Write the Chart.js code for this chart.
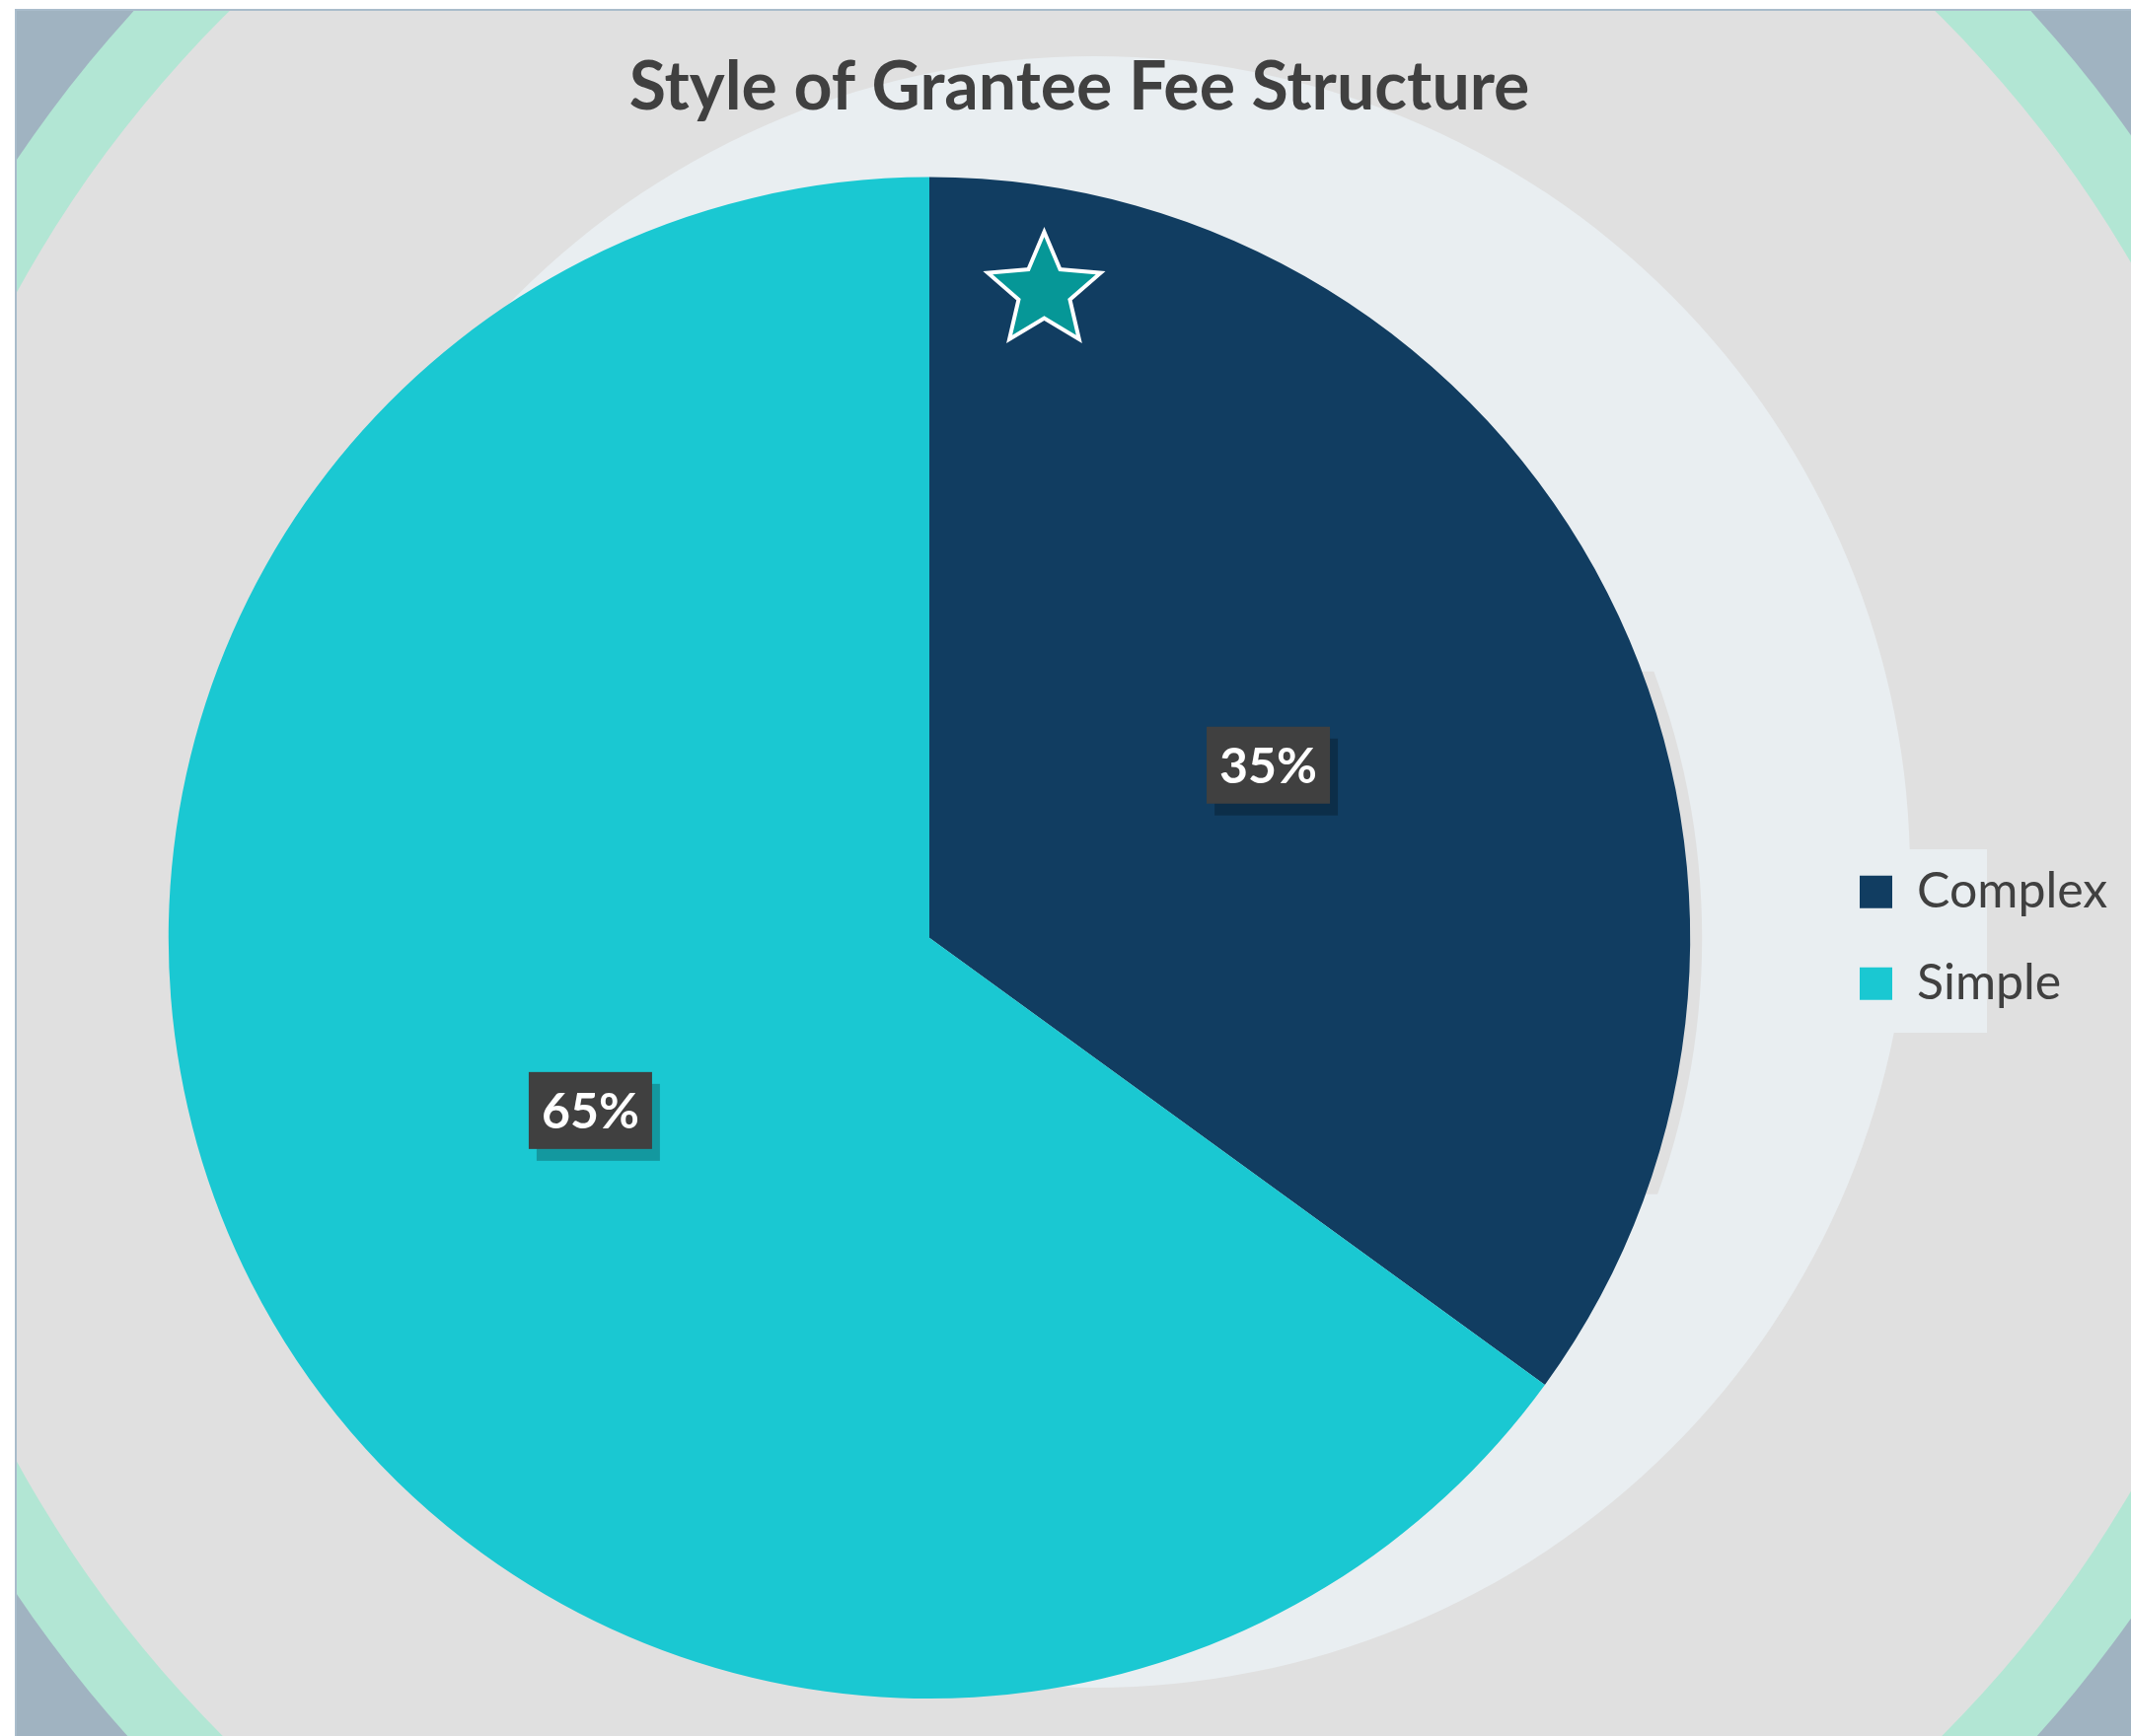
<!DOCTYPE html>
<html>
<head>
<meta charset="utf-8">
<script src="https://cdn.jsdelivr.net/npm/chart.js@4.4.1/dist/chart.umd.min.js"></script>
<style>
  html, body { margin: 0; padding: 0; background: #ffffff; }
  canvas { display: block; }
</style>
</head>
<body>
<canvas id="mycanvas" width="2160" height="1760"></canvas>
<script>
var categories = ['Complex', 'Simple'];
var shares = [35, 65];
var sliceColors = ['#113d61', '#1ac8d2'];
var chartTitle = 'Style of Grantee Fee Structure';

// legend sizing, measured so the legend sits where the original has it
var legendFont = 50, legendPad = 43, legendBox = 33;
var mctx = document.createElement('canvas').getContext('2d');
mctx.font = legendFont + 'px Lato';
var textW = 0;
for (var i in categories) {
  textW = Math.max(textW, mctx.measureText(categories[i]).width);
}
var legendLeft = 1885 - legendPad;
var padRight = 2160 - legendLeft - (legendPad + legendBox + legendFont / 2 + textW + 10);

// backdrop: frame, rings, pale disc behind the pie
var backdrop = {
  id: 'backdrop',
  beforeDraw: function(chart) {
    var ctx = chart.ctx;
    var meta = chart.getDatasetMeta(0);
    var arc = meta.data[0];
    ctx.save();
    ctx.fillStyle = '#ffffff';
    ctx.fillRect(0, 0, chart.width, chart.height);
    ctx.beginPath();
    ctx.rect(16, 10, chart.width - 16, chart.height - 10);
    ctx.clip();
    ctx.fillStyle = '#a0b3c1';
    ctx.fillRect(16, 10, chart.width - 16, chart.height - 10);
    ctx.fillStyle = '#b2e6d4';
    ctx.beginPath(); ctx.arc(1097, 889, 1302, 0, Math.PI * 2); ctx.fill();
    ctx.fillStyle = '#e0e0e0';
    ctx.beginPath(); ctx.arc(1097, 889, 1232, 0, Math.PI * 2); ctx.fill();
    ctx.fillStyle = '#e9eef1';
    ctx.beginPath(); ctx.arc(1109, 884, 827, 0, Math.PI * 2); ctx.fill();
    // pale patch behind the legend
    ctx.fillRect(1900, 861, 114, 186);
    // grey halo on the right of the pie
    ctx.save();
    ctx.beginPath();
    ctx.rect(arc.x, arc.y - 270, arc.outerRadius + 40, 530);
    ctx.clip();
    ctx.fillStyle = '#e0e0e0';
    ctx.beginPath(); ctx.arc(arc.x + 12, arc.y, arc.outerRadius, 0, Math.PI * 2); ctx.fill();
    ctx.restore();
    ctx.restore();
    // frame lines
    ctx.save();
    ctx.strokeStyle = '#a9bccb';
    ctx.lineWidth = 2;
    ctx.beginPath();
    ctx.moveTo(16, chart.height); ctx.lineTo(16, 10); ctx.lineTo(chart.width, 10);
    ctx.stroke();
    ctx.restore();
  }
};

// percentage boxes and the star
var labelsAndStar = {
  id: 'labelsAndStar',
  afterDatasetsDraw: function(chart) {
    var ctx = chart.ctx;
    var meta = chart.getDatasetMeta(0);
    ctx.save();
    ctx.font = 'bold 50px Lato';
    ctx.textAlign = 'center';
    ctx.textBaseline = 'middle';
    meta.data.forEach(function(el, i) {
      var p = el.tooltipPosition();
      var txt = shares[i] + '%';
      var w = 125;
      var h = 78;
      ctx.fillStyle = 'rgba(0,0,0,0.24)';
      ctx.fillRect(p.x - w / 2 + 8, p.y - h / 2 + 12, w, h);
      ctx.fillStyle = '#404040';
      ctx.fillRect(p.x - w / 2, p.y - h / 2, w, h);
      ctx.fillStyle = '#ffffff';
      ctx.fillText(txt, p.x, p.y + 2);
    });

    var a = meta.data[0];
    var cx = a.x + 0.151 * a.outerRadius;
    var cy = a.y - 0.85 * a.outerRadius;
    var R = 55, r = 25;
    ctx.beginPath();
    for (var k = 0; k < 10; k++) {
      var rad = k % 2 === 0 ? R : r;
      var ang = -Math.PI / 2 + k * Math.PI / 5;
      var px = cx + rad * Math.cos(ang), py = cy + rad * Math.sin(ang);
      if (k === 0) ctx.moveTo(px, py); else ctx.lineTo(px, py);
    }
    ctx.closePath();
    ctx.lineJoin = 'miter';
    ctx.lineWidth = 8;
    ctx.strokeStyle = '#ffffff';
    ctx.stroke();
    ctx.fillStyle = '#069797';
    ctx.fill();
    ctx.restore();
  }
};

Chart.defaults.font.family = 'Lato, "Open Sans", sans-serif';

var chartdata = {
  labels: categories,
  datasets: [{
    data: shares,
    backgroundColor: sliceColors,
    borderWidth: 0,
    hoverOffset: 0
  }]
};

var ctx = document.getElementById('mycanvas');
var pieChart = new Chart(ctx, {
  type: 'pie',
  data: chartdata,
  plugins: [backdrop, labelsAndStar],
  options: {
    responsive: false,
    animation: false,
    events: [],
    layout: { padding: { left: 42, right: padRight, top: 10, bottom: 38 } },
    plugins: {
      title: {
        display: true,
        text: chartTitle,
        color: '#404040',
        font: { size: 68, weight: 'bold' },
        padding: { top: 38, bottom: 50 }
      },
      legend: {
        position: 'right',
        fullSize: false,
        labels: {
          boxWidth: legendBox,
          boxHeight: legendBox,
          padding: legendPad,
          color: '#404040',
          font: { size: legendFont }
        }
      },
      tooltip: { enabled: false }
    }
  }
});
</script>
</body>
</html>
